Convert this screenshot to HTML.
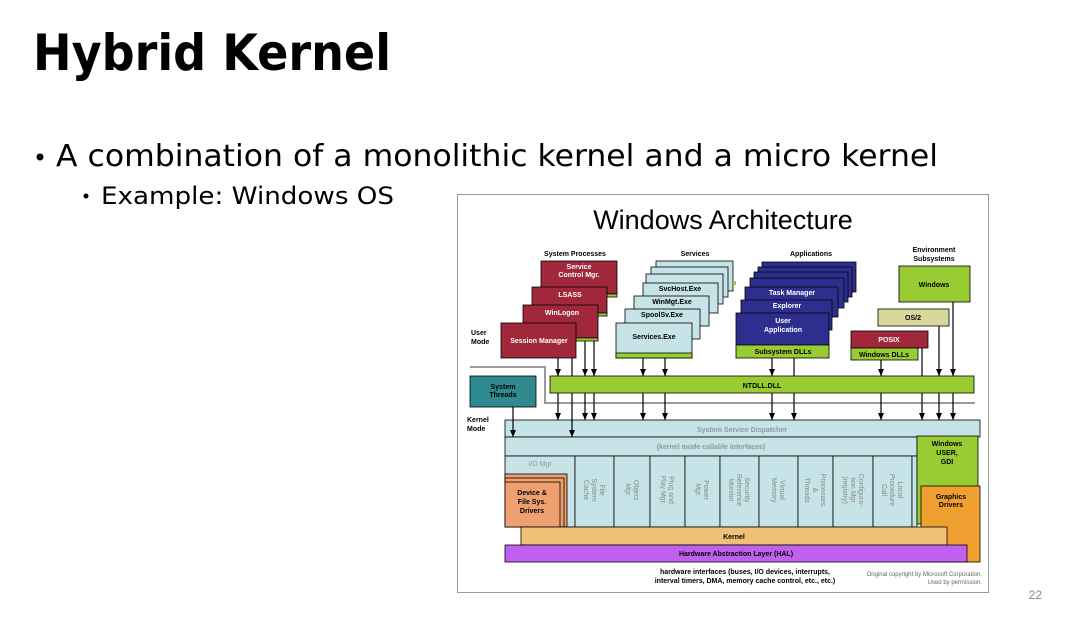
<!DOCTYPE html>
<html><head><meta charset="utf-8"><style>
html,body{margin:0;padding:0;background:#fff;width:1068px;height:624px;overflow:hidden}
svg{display:block}
.t{font-family:"Liberation Sans",sans-serif;font-weight:bold}
</style></head><body>
<svg width="1068" height="624" viewBox="0 0 1068 624" xmlns="http://www.w3.org/2000/svg">
<defs>
<marker id="a" markerWidth="7" markerHeight="6" refX="7" refY="3" orient="auto" markerUnits="userSpaceOnUse">
<path d="M0,0 L7,3 L0,6 z" fill="#000"/></marker>
</defs>
<text x="33" y="70" font-family="DejaVu Sans, sans-serif" font-weight="bold" font-size="50" textLength="358" lengthAdjust="spacingAndGlyphs">Hybrid Kernel</text>
<circle cx="40" cy="157" r="3.5" fill="#000"/>
<text x="56" y="166" font-family="DejaVu Sans, sans-serif" font-size="30" textLength="882" lengthAdjust="spacingAndGlyphs">A combination of a monolithic kernel and a micro kernel</text>
<circle cx="86" cy="196" r="2.5" fill="#000"/>
<text x="101" y="204" font-family="DejaVu Sans, sans-serif" font-size="24" textLength="293" lengthAdjust="spacingAndGlyphs">Example: Windows OS</text>
<text x="1042" y="599" text-anchor="end" font-family="Liberation Sans, sans-serif" font-size="12" fill="#888">22</text>

<rect x="457.5" y="194.5" width="531" height="398" fill="#fff" stroke="#999"/>
<text x="723" y="229" text-anchor="middle" font-family="Liberation Sans, sans-serif" font-size="27">Windows Architecture</text>
<g class="t" font-size="7" text-anchor="middle">
<text x="575" y="256">System Processes</text>
<text x="695" y="256">Services</text>
<text x="811" y="256">Applications</text>
<text x="934" y="252">Environment</text>
<text x="934" y="261">Subsystems</text>
<text x="471" y="335" text-anchor="start">User</text>
<text x="471" y="344" text-anchor="start">Mode</text>
<text x="467" y="422" text-anchor="start">Kernel</text>
<text x="467" y="431" text-anchor="start">Mode</text>
</g>

<polyline points="470,367 545,367 545,403 975,403" fill="none" stroke="#999" stroke-width="2"/>

<g stroke="#000" stroke-width="0.8">
<rect x="541" y="261" width="76" height="33" fill="#a0283a"/><rect x="598" y="294" width="19" height="3" fill="#9c3"/>
<rect x="532" y="287" width="75" height="26" fill="#a0283a"/><rect x="590" y="313" width="17" height="3" fill="#9c3"/>
<rect x="523" y="305" width="75" height="33" fill="#a0283a"/><rect x="576" y="338" width="22" height="3" fill="#9c3"/>
<rect x="501" y="323" width="75" height="35" fill="#a0283a"/>
</g>
<g class="t" font-size="7" fill="#fff" text-anchor="middle">
<text x="579" y="269">Service</text><text x="579" y="277">Control Mgr.</text>
<text x="570" y="297">LSASS</text>
<text x="562" y="315">WinLogon</text>
<text x="539" y="343">Session  Manager</text>
</g>

<g stroke="#000" stroke-width="0.8" fill="#c6e3e8">
<rect x="656" y="261" width="77" height="30"/><rect x="733" y="281" width="3" height="4" fill="#9c3" stroke="none"/>
<rect x="651" y="267" width="77" height="30"/>
<rect x="646" y="274" width="77" height="30"/>
<rect x="643" y="283" width="75" height="30"/>
<rect x="634" y="296" width="75" height="30"/>
<rect x="625" y="309" width="75" height="30"/>
<rect x="616" y="323" width="76" height="35"/>
<rect x="616" y="353" width="76" height="5" fill="#9c3"/>
</g>
<g class="t" font-size="7" text-anchor="middle">
<text x="680" y="291">SvcHost.Exe</text>
<text x="672" y="304">WinMgt.Exe</text>
<text x="662" y="317">SpoolSv.Exe</text>
<text x="654" y="339">Services.Exe</text>
</g>

<g stroke="#000" stroke-width="0.8" fill="#2e2e8f">
<rect x="762" y="262" width="94" height="30"/>
<rect x="758" y="267" width="94" height="30"/>
<rect x="754" y="272" width="94" height="30"/>
<rect x="750" y="278" width="94" height="30"/>
<rect x="745" y="287" width="93" height="30"/>
<rect x="741" y="300" width="91" height="30"/>
<rect x="736" y="313" width="93" height="32"/>
<rect x="736" y="345" width="93" height="13" fill="#9c3"/>
</g>
<g class="t" font-size="7" text-anchor="middle" fill="#fff">
<text x="792" y="295">Task Manager</text>
<text x="787" y="308">Explorer</text>
<text x="783" y="323">User</text><text x="783" y="332">Application</text>
<text x="783" y="354" fill="#000">Subsystem DLLs</text>
</g>

<g stroke="#000" stroke-width="0.8">
<rect x="899" y="266" width="71" height="36" fill="#9c3"/>
<rect x="878" y="309" width="71" height="17" fill="#d8d89a"/>
<rect x="851" y="331" width="77" height="17" fill="#a0283a"/>
<rect x="851" y="348" width="67" height="12" fill="#9c3"/>
</g>
<g class="t" font-size="7" text-anchor="middle">
<text x="934" y="287">Windows</text>
<text x="913" y="320">OS/2</text>
<text x="889" y="342" fill="#fff">POSIX</text>
<text x="884" y="357">Windows DLLs</text>
</g>

<rect x="550" y="376" width="424" height="17" fill="#9c3" stroke="#000" stroke-width="0.8"/>
<text x="762" y="388" class="t" font-size="7" text-anchor="middle">NTDLL.DLL</text>
<rect x="470" y="376" width="66" height="31" fill="#2e8a8f" stroke="#000" stroke-width="0.8"/>
<text x="503" y="389" class="t" font-size="7" text-anchor="middle">System</text>
<text x="503" y="397" class="t" font-size="7" text-anchor="middle">Threads</text>

<g stroke="#000" stroke-width="0.8">
<rect x="505" y="420" width="475" height="17" fill="#c6e3e8"/>
<rect x="505" y="437" width="412" height="19" fill="#c6e3e8"/>
<rect x="505" y="456" width="70" height="71" fill="#c6e3e8"/>
<rect x="575" y="456" width="39" height="71" fill="#c6e3e8"/>
<rect x="614" y="456" width="36" height="71" fill="#c6e3e8"/>
<rect x="650" y="456" width="35" height="71" fill="#c6e3e8"/>
<rect x="685" y="456" width="35" height="71" fill="#c6e3e8"/>
<rect x="720" y="456" width="39" height="71" fill="#c6e3e8"/>
<rect x="759" y="456" width="39" height="71" fill="#c6e3e8"/>
<rect x="798" y="456" width="35" height="71" fill="#c6e3e8"/>
<rect x="833" y="456" width="40" height="71" fill="#c6e3e8"/>
<rect x="873" y="456" width="39" height="71" fill="#c6e3e8"/>
<rect x="912" y="456" width="5" height="71" fill="#c6e3e8"/>
<rect x="917" y="436" width="61" height="88" fill="#9c3"/>
<rect x="921" y="486" width="59" height="76" fill="#f0a030"/>
<rect x="505" y="474" width="62" height="53" fill="#f0a070"/>
<rect x="505" y="478" width="59" height="49" fill="#f0a070"/>
<rect x="505" y="482" width="55" height="45" fill="#f0a070"/>
<rect x="521" y="527" width="426" height="18" fill="#f0c078"/>
<rect x="505" y="545" width="462" height="17" fill="#c060f0"/>
</g>
<g class="t" font-size="7" text-anchor="middle">
<text x="742" y="432" fill="#8a9a9e">System Service Dispatcher</text>
<text x="711" y="449" fill="#8a9a9e">(kernel mode callable interfaces)</text>
<text x="540" y="466" fill="#8a9a9e" font-weight="normal">I/O Mgr</text>
<text x="532" y="495">Device &amp;</text>
<text x="532" y="504">File Sys.</text>
<text x="532" y="513">Drivers</text>
<text x="947" y="446">Windows</text>
<text x="947" y="455">USER,</text>
<text x="947" y="464">GDI</text>
<text x="951" y="499">Graphics</text>
<text x="951" y="507">Drivers</text>
<text x="734" y="539">Kernel</text>
<text x="736" y="556">Hardware Abstraction Layer (HAL)</text>
<text x="745" y="574">hardware interfaces (buses, I/O devices, interrupts,</text>
<text x="745" y="583">interval timers, DMA, memory cache control, etc., etc.)</text>
</g>
<g font-family="Liberation Sans, sans-serif" font-size="6" fill="#666" text-anchor="end">
<text x="982" y="576">Original copyright by Microsoft Corporation.</text>
<text x="982" y="584">Used by permission.</text>
</g>
<g font-family="Liberation Sans, sans-serif" font-size="7" fill="#888" text-anchor="middle">
<g transform="translate(594,490) rotate(90)"><text x="0" y="-6">File</text><text x="0" y="2">System</text><text x="0" y="10">Cache</text></g>
<g transform="translate(632,490) rotate(90)"><text x="0" y="-2">Object</text><text x="0" y="6">Mgr.</text></g>
<g transform="translate(667,490) rotate(90)"><text x="0" y="-2">Plug and</text><text x="0" y="6">Play Mgr.</text></g>
<g transform="translate(702,490) rotate(90)"><text x="0" y="-2">Power</text><text x="0" y="6">Mgr.</text></g>
<g transform="translate(739,490) rotate(90)"><text x="0" y="-6">Security</text><text x="0" y="2">Reference</text><text x="0" y="10">Monitor</text></g>
<g transform="translate(778,490) rotate(90)"><text x="0" y="-2">Virtual</text><text x="0" y="6">Memory</text></g>
<g transform="translate(815,490) rotate(90)"><text x="0" y="-6">Processes</text><text x="0" y="2">&amp;</text><text x="0" y="10">Threads</text></g>
<g transform="translate(853,490) rotate(90)"><text x="0" y="-6">Configura-</text><text x="0" y="2">tion Mgr</text><text x="0" y="10">(registry)</text></g>
<g transform="translate(892,490) rotate(90)"><text x="0" y="-6">Local</text><text x="0" y="2">Procedure</text><text x="0" y="10">Call</text></g>
</g>

<g stroke="#000" stroke-width="1.2" fill="none">
<line x1="558" y1="358" x2="558" y2="376" marker-end="url(#a)"/>
<line x1="572" y1="358" x2="572" y2="376"/>
<line x1="585" y1="341" x2="585" y2="376" marker-end="url(#a)"/>
<line x1="594" y1="341" x2="594" y2="376" marker-end="url(#a)"/>
<line x1="643" y1="358" x2="643" y2="376" marker-end="url(#a)"/>
<line x1="665" y1="358" x2="665" y2="376" marker-end="url(#a)"/>
<line x1="772" y1="358" x2="772" y2="376" marker-end="url(#a)"/>
<line x1="794" y1="358" x2="794" y2="376"/>
<line x1="881" y1="360" x2="881" y2="376" marker-end="url(#a)"/>
<line x1="922" y1="348" x2="922" y2="376"/>
<line x1="939" y1="326" x2="939" y2="376" marker-end="url(#a)"/>
<line x1="953" y1="302" x2="953" y2="376" marker-end="url(#a)"/>
<line x1="558" y1="393" x2="558" y2="420" marker-end="url(#a)"/>
<line x1="585" y1="393" x2="585" y2="420" marker-end="url(#a)"/>
<line x1="594" y1="393" x2="594" y2="420" marker-end="url(#a)"/>
<line x1="643" y1="393" x2="643" y2="420" marker-end="url(#a)"/>
<line x1="665" y1="393" x2="665" y2="420" marker-end="url(#a)"/>
<line x1="772" y1="393" x2="772" y2="420" marker-end="url(#a)"/>
<line x1="794" y1="393" x2="794" y2="420" marker-end="url(#a)"/>
<line x1="881" y1="393" x2="881" y2="420" marker-end="url(#a)"/>
<line x1="922" y1="393" x2="922" y2="420" marker-end="url(#a)"/>
<line x1="939" y1="393" x2="939" y2="420" marker-end="url(#a)"/>
<line x1="953" y1="393" x2="953" y2="420" marker-end="url(#a)"/>
<line x1="513" y1="407" x2="513" y2="437" marker-end="url(#a)"/>
<line x1="572" y1="393" x2="572" y2="437" marker-end="url(#a)"/>
</g>
</svg>
</body></html>
